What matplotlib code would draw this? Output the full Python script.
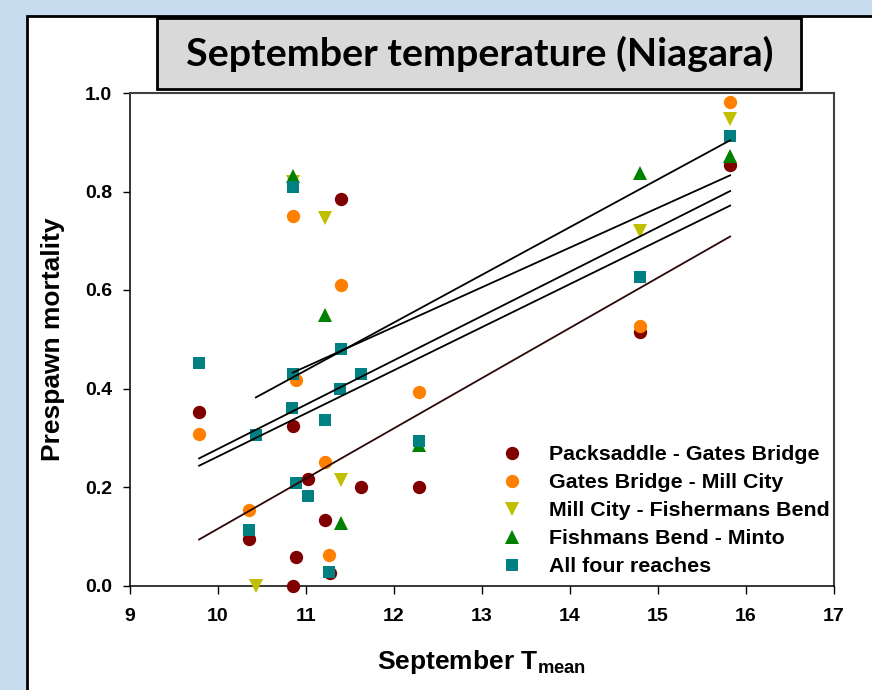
import numpy as np
import matplotlib
matplotlib.use("Agg")
import matplotlib.pyplot as plt
from matplotlib.patches import Rectangle

plt.rcParams["font.family"] = ["Liberation Sans", "DejaVu Sans"]
plt.rcParams["font.weight"] = "bold"
plt.rcParams["axes.labelweight"] = "bold"
plt.rcParams["mathtext.fontset"] = "custom"
plt.rcParams["mathtext.rm"] = "Liberation Sans:bold"
plt.rcParams["mathtext.bf"] = "Liberation Sans:bold"

# --- data ---
pack_x = [9.785, 10.35, 10.85, 10.85, 10.885, 11.02, 11.22, 11.27, 11.40, 11.62, 12.28, 14.80, 15.82]
pack_y = [0.352, 0.095, 0.323, 0.0, 0.058, 0.217, 0.134, 0.025, 0.784, 0.200, 0.200, 0.515, 0.854]

gates_x = [9.785, 10.35, 10.85, 10.885, 11.22, 11.265, 11.40, 12.28, 14.80, 15.82]
gates_y = [0.307, 0.154, 0.751, 0.417, 0.251, 0.062, 0.610, 0.392, 0.527, 0.981]

mill_x = [10.43, 10.85, 11.22, 11.40, 14.80, 15.82]
mill_y = [0.0, 0.82, 0.747, 0.214, 0.720, 0.947]

fish_x = [10.85, 11.22, 11.40, 12.28, 14.80, 15.82]
fish_y = [0.832, 0.549, 0.127, 0.285, 0.837, 0.872]

all_x = [9.785, 10.35, 10.43, 10.84, 10.85, 10.85, 10.885, 11.02, 11.22, 11.265,
         11.39, 11.40, 11.62, 12.28, 14.80, 15.82]
all_y = [0.451, 0.112, 0.305, 0.361, 0.429, 0.81, 0.209, 0.181, 0.336, 0.027,
         0.400, 0.481, 0.429, 0.293, 0.626, 0.913]

labels = ["Packsaddle - Gates Bridge", "Gates Bridge - Mill City",
          "Mill City - Fishermans Bend", "Fishmans Bend - Minto", "All four reaches"]

series = [
    (pack_x, pack_y, "o", "#800000", 9.6, "#2b0808"),
    (gates_x, gates_y, "o", "#ff8000", 9.6, "black"),
    (mill_x, mill_y, "v", "#bfbf00", 10, "black"),
    (fish_x, fish_y, "^", "#008000", 10, "black"),
    (all_x, all_y, "s", "#008080", 9, "black"),
]

fig = plt.figure(figsize=(8.72, 6.9), dpi=100, facecolor="#c8dcef")

# white panel with black border on left/top
fig.patches.append(Rectangle((27 / 872, -0.1), 1.2, 1.1 - 16 / 690,
                             transform=fig.transFigure, facecolor="white",
                             edgecolor="black", linewidth=2.0, zorder=-10))

ax = fig.add_axes([130 / 872, 1 - 585.5 / 690, 704 / 872, 492.5 / 690])
ax.set_facecolor("white")

for (x, y, m, c, ms, lc), lab in zip(series, labels):
    ax.plot(x, y, linestyle="none", marker=m, color=c, markersize=ms,
            markeredgewidth=0, label=lab, clip_on=False, zorder=3)

# least-squares fit for each series, drawn over its x range
for (x, y, m, c, ms, lc) in series:
    x = np.array(x)
    k, b = np.polyfit(x, y, 1)
    xs = np.array([x.min(), x.max()])
    ax.plot(xs, k * xs + b, color=lc, linewidth=1.3, zorder=4)

ax.set_xlim(9, 17)
ax.set_ylim(0, 1.0)
ax.set_xticks(range(9, 18))
ax.set_yticks(np.arange(0, 1.01, 0.2))
ax.set_yticklabels([f"{v:.1f}" for v in np.arange(0, 1.01, 0.2)])
ax.tick_params(axis="x", direction="out", length=6, width=1, pad=10, labelsize=14)
ax.tick_params(axis="y", direction="out", length=5, width=1, pad=8, labelsize=14)

for side in ["left", "bottom"]:
    ax.spines[side].set_color("black")
    ax.spines[side].set_linewidth(1.1)
for side in ["top", "right"]:
    ax.spines[side].set_color("#404040")
    ax.spines[side].set_linewidth(1.5)

ax.set_xlabel(r"September T$_{\mathrm{mean}}$", fontsize=19, labelpad=17)
ax.set_ylabel("Prespawn mortality", fontsize=19, labelpad=14)

ax.legend(loc="upper left", bbox_to_anchor=(0.528, 0.285), frameon=False,
          fontsize=15.4, borderpad=0, handlelength=1.0, handletextpad=1.22,
          labelspacing=0.42, borderaxespad=0)

# title box
fig.patches.append(Rectangle((157 / 872, 1 - 89 / 690), 644 / 872, 71 / 690,
                             transform=fig.transFigure, facecolor="#d9d9d9",
                             edgecolor="black", linewidth=2.0, zorder=5))
fig.text(480 / 872, 1 - 54 / 690, "September temperature (Niagara)",
         family=["Lato", "DejaVu Sans"], fontweight="bold", fontsize=28.4,
         ha="center", va="center", zorder=6)

fig.savefig("out.png", dpi=100, facecolor=fig.get_facecolor())
